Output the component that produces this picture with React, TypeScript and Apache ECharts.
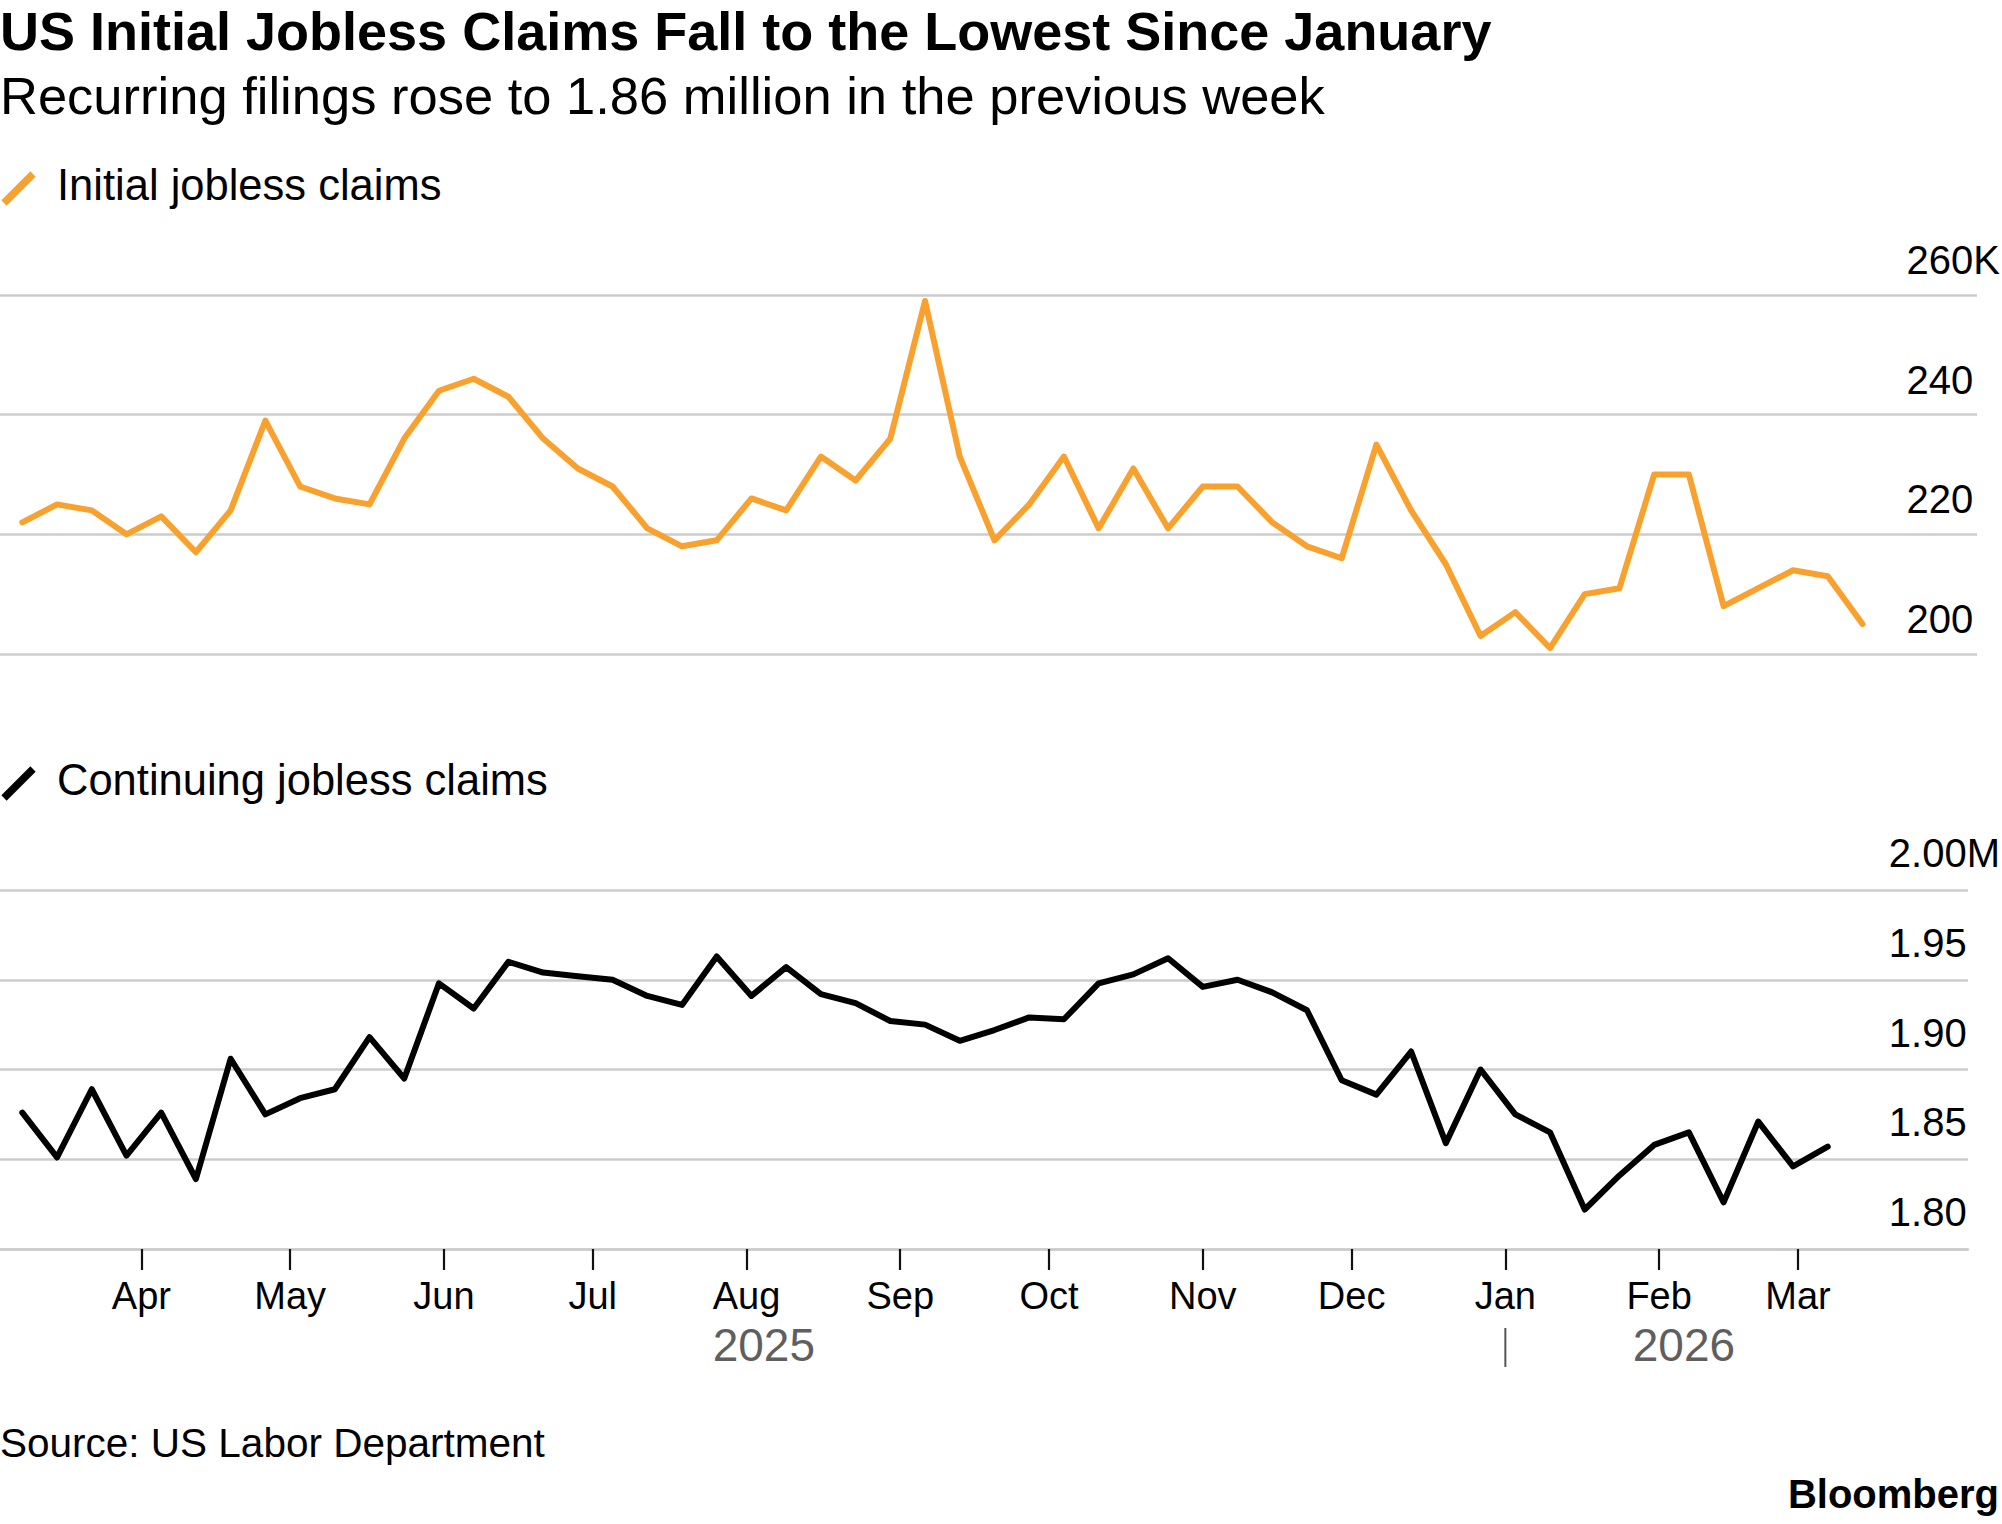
import React, { useEffect, useRef } from "react";
import * as echarts from "echarts";

// ---------- data ----------
const WEEK_DATES = [
  "2025-03-08", "2025-03-15", "2025-03-22", "2025-03-29",
  "2025-04-05", "2025-04-12", "2025-04-19", "2025-04-26",
  "2025-05-03", "2025-05-10", "2025-05-17", "2025-05-24", "2025-05-31",
  "2025-06-07", "2025-06-14", "2025-06-21", "2025-06-28",
  "2025-07-05", "2025-07-12", "2025-07-19", "2025-07-26",
  "2025-08-02", "2025-08-09", "2025-08-16", "2025-08-23", "2025-08-30",
  "2025-09-06", "2025-09-13", "2025-09-20", "2025-09-27",
  "2025-10-04", "2025-10-11", "2025-10-18", "2025-10-25",
  "2025-11-01", "2025-11-08", "2025-11-15", "2025-11-22", "2025-11-29",
  "2025-12-06", "2025-12-13", "2025-12-20", "2025-12-27",
  "2026-01-03", "2026-01-10", "2026-01-17", "2026-01-24", "2026-01-31",
  "2026-02-07", "2026-02-14", "2026-02-21", "2026-02-28",
  "2026-03-07", "2026-03-14",
];

// thousands
const INITIAL_CLAIMS = [
  222, 225, 224, 220, 223, 217, 224, 239, 228, 226,
  225, 236, 244, 246, 243, 236, 231, 228, 221, 218,
  219, 226, 224, 233, 229, 236, 259, 233, 219, 225,
  233, 221, 231, 221, 228, 228, 222, 218, 216, 235,
  224, 215, 203, 207, 201, 210, 211, 230, 230, 208,
  211, 214, 213, 205,
];

// millions
const CONTINUING_CLAIMS = [
  1.876, 1.851, 1.889, 1.852, 1.876, 1.839, 1.906, 1.875, 1.884, 1.889,
  1.918, 1.895, 1.948, 1.934, 1.960, 1.954, 1.952, 1.950, 1.941, 1.936,
  1.963, 1.941, 1.957, 1.942, 1.937, 1.927, 1.925, 1.916, 1.922, 1.929,
  1.928, 1.948, 1.953, 1.962, 1.946, 1.950, 1.943, 1.933, 1.894, 1.886,
  1.910, 1.859, 1.900, 1.875, 1.865, 1.822, 1.841, 1.858, 1.865, 1.826,
  1.871, 1.846, 1.857,
];

const MONTH_TICKS = [
  "2025-04-01", "2025-05-01", "2025-06-01", "2025-07-01", "2025-08-01",
  "2025-09-01", "2025-10-01", "2025-11-01", "2025-12-01", "2026-01-01",
  "2026-02-01", "2026-03-01",
];
const MONTH_LABELS = ["Apr", "May", "Jun", "Jul", "Aug", "Sep", "Oct", "Nov", "Dec", "Jan", "Feb", "Mar"];

const YEAR_LABELS = ["2025", "2026"];
const YEAR_BREAK = "2026-01-01";

const TOP_Y = { min: 200, max: 260, interval: 20, unit: "K" };
const BOTTOM_Y = { min: 1.8, max: 2.0, interval: 0.05, unit: "M" };

const TITLE = "US Initial Jobless Claims Fall to the Lowest Since January";
const SUBTITLE = "Recurring filings rose to 1.86 million in the previous week";
const LEGEND_TOP = "Initial jobless claims";
const LEGEND_BOTTOM = "Continuing jobless claims";
const SOURCE = "Source: US Labor Department";
const BRAND = "Bloomberg";

// ---------- style ----------
const FONT = '"Liberation Sans", Arial, sans-serif';
const ORANGE = "#f9a12e";
const GRID_COLOR = "#cccccc";
const W = 2002;
const H = 1524;
const DAY = 86400000;
const PX_PER_DAY = 4.96;

const toMs = (s: string) => {
  const [y, m, d] = s.split("-").map(Number);
  return Date.UTC(y, m - 1, d);
};

const X_ORIGIN = Date.UTC(2025, 2, 3, 12);
const TOP_RIGHT = 25;
const BOTTOM_RIGHT = 34;
const xMaxFor = (right: number) => X_ORIGIN + ((W - right) / PX_PER_DAY) * DAY;

const LABEL_SIZE = 40;

function yAxisFor(cfg: typeof TOP_Y, right: number, fmt: (v: number) => string, padBottom: number) {
  const unitWidth = cfg.unit === "K" ? 0.667 * LABEL_SIZE : 0.833 * LABEL_SIZE;
  return {
    type: "value",
    position: "right",
    min: cfg.min,
    max: cfg.max,
    interval: cfg.interval,
    axisLine: { show: false },
    axisTick: { show: false },
    splitLine: { show: true, lineStyle: { color: GRID_COLOR, width: 2.5 } },
    axisLabel: {
      show: true,
      margin: right - 2,
      align: "right",
      verticalAlign: "bottom",
      padding: [0, 0, padBottom, 0],
      formatter: (v: number) => {
        const isMax = Math.abs(v - cfg.max) < 1e-9;
        return isMax ? `{n|${fmt(v)}}{u|${cfg.unit}}` : `{n|${fmt(v)}}{p| }`;
      },
      rich: {
        n: { fontSize: LABEL_SIZE, fontFamily: FONT, color: "#000", lineHeight: LABEL_SIZE },
        u: { fontSize: LABEL_SIZE, fontFamily: FONT, color: "#000", lineHeight: LABEL_SIZE },
        p: { fontSize: LABEL_SIZE, fontFamily: FONT, width: unitWidth, lineHeight: LABEL_SIZE },
      },
    },
  };
}

export default function App() {
  const ref = useRef<HTMLDivElement>(null);

  useEffect(() => {
    if (!ref.current) return;
    const chart = echarts.init(ref.current, undefined, { renderer: "svg", width: W, height: H });

    const monthMs = MONTH_TICKS.map(toMs);

    const option: any = {
      animation: false,
      backgroundColor: "#ffffff",
      textStyle: { fontFamily: FONT },
      grid: [
        { left: 0, right: TOP_RIGHT, top: 295, height: 359, containLabel: false, outerBoundsMode: "none" },
        { left: 0, right: BOTTOM_RIGHT, top: 890, height: 359, containLabel: false, outerBoundsMode: "none" },
      ],
      xAxis: [
        {
          type: "value",
          gridIndex: 0,
          min: X_ORIGIN,
          max: xMaxFor(TOP_RIGHT),
          show: false,
          splitLine: { show: false },
        },
        {
          type: "value",
          gridIndex: 1,
          min: X_ORIGIN,
          max: xMaxFor(BOTTOM_RIGHT),
          axisLine: { show: true, onZero: false, lineStyle: { color: GRID_COLOR, width: 2.5 } },
          axisTick: {
            show: true,
            customValues: monthMs,
            length: 21,
            lineStyle: { color: "#111", width: 2.2 },
          },
          splitLine: { show: false },
          axisLabel: {
            show: true,
            customValues: monthMs,
            margin: 28,
            fontSize: 38,
            fontFamily: FONT,
            color: "#000",
            hideOverlap: false,
            showMinLabel: true,
            showMaxLabel: true,
            formatter: (v: number) => {
              const i = monthMs.findIndex((m) => Math.abs(m - v) < DAY / 2);
              return i >= 0 ? MONTH_LABELS[i] : "";
            },
          },
        },
      ],
      yAxis: [
        { gridIndex: 0, ...yAxisFor(TOP_Y, TOP_RIGHT, (v) => String(Math.round(v)), 15) },
        { gridIndex: 1, ...yAxisFor(BOTTOM_Y, BOTTOM_RIGHT, (v) => v.toFixed(2), 17) },
      ],
      series: [
        {
          type: "line",
          xAxisIndex: 0,
          yAxisIndex: 0,
          data: WEEK_DATES.map((d, i) => [toMs(d), INITIAL_CLAIMS[i]]),
          showSymbol: false,
          symbol: "none",
          lineStyle: { color: ORANGE, width: 6, join: "round", cap: "round" },
          z: 5,
        },
        {
          type: "line",
          xAxisIndex: 1,
          yAxisIndex: 1,
          data: CONTINUING_CLAIMS.map((v, i) => [toMs(WEEK_DATES[i]), v]),
          showSymbol: false,
          symbol: "none",
          lineStyle: { color: "#000000", width: 6, join: "round", cap: "round" },
          z: 5,
        },
      ],
    };

    chart.setOption(option);

    const px = (s: string) => chart.convertToPixel({ xAxisIndex: 1 }, toMs(s)) as number;
    const firstPx = px(WEEK_DATES[0]);
    const breakPx = px(YEAR_BREAK);
    const lastPx = px(WEEK_DATES[WEEK_DATES.length - 1]);

    const text = (t: string, x: number, y: number, size: number, opts: any = {}) => ({
      type: "text",
      x,
      y,
      silent: true,
      style: {
        text: t,
        fontSize: size,
        fontFamily: FONT,
        fontWeight: opts.bold ? "bold" : "normal",
        fill: opts.color || "#000",
        align: opts.align || "left",
        verticalAlign: "middle",
      },
    });

    chart.setOption({
      graphic: [
        text(TITLE, 0, 31, 54, { bold: true }),
        text(SUBTITLE, 0, 95, 52.5),
        {
          type: "line",
          shape: { x1: 4, y1: 203, x2: 33, y2: 174 },
          style: { stroke: ORANGE, lineWidth: 7.5 },
        },
        text(LEGEND_TOP, 57, 185, 43.5),
        {
          type: "line",
          shape: { x1: 4, y1: 798, x2: 33, y2: 769 },
          style: { stroke: "#000", lineWidth: 7.5 },
        },
        text(LEGEND_BOTTOM, 57, 780, 43.5),
        text(YEAR_LABELS[0], (firstPx + breakPx) / 2, 1345, 46, { align: "center", color: "#5f5f5f" }),
        text(YEAR_LABELS[1], (breakPx + lastPx) / 2, 1345, 46, { align: "center", color: "#5f5f5f" }),
        {
          type: "line",
          shape: { x1: breakPx, y1: 1328, x2: breakPx, y2: 1367 },
          style: { stroke: "#555", lineWidth: 2 },
        },
        text(SOURCE, 0, 1443, 40.5),
        text(BRAND, 1999, 1494, 40, { bold: true, align: "right" }),
      ],
    });

    return () => chart.dispose();
  }, []);

  return (
    <div
      ref={ref}
      style={{ position: "absolute", left: 0, top: 0, width: W, height: H, background: "#fff" }}
    />
  );
}
